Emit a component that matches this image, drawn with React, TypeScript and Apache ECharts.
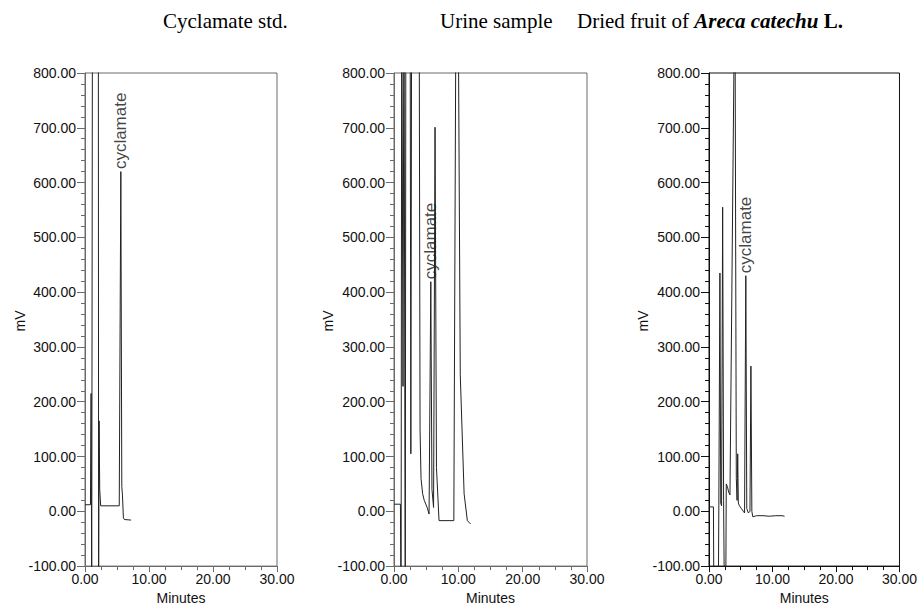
import React, { useEffect, useRef } from "react";
import * as echarts from "echarts";

// ---- Data (minutes, mV) ----
const std_time = [0, 0.85, 0.95, 1.05, 1.17, 2.08, 2.13, 2.2, 2.3, 2.45, 5.35, 5.6, 5.75, 5.85, 6.0, 6.15, 7.2];
const std_signal = [12, 12, 215, -150, 1000, 1000, -150, 165, 40, 10, 10, 620, 45, 30, -12, -15, -16];

const urine_time = [0, 1.0, 1.1, 1.2, 1.4, 1.55, 1.75, 1.85, 2.5, 2.62, 2.75, 3.9, 4.05, 4.2, 4.45, 4.7, 5.15, 5.45, 5.72, 5.9, 6.15, 6.38, 6.6, 7.0, 9.3, 9.65, 9.95, 10.3, 10.9, 11.4, 11.9];
const urine_signal = [13, 13, -200, 1000, 228, 1000, -200, 1000, 1000, 105, 1000, 1000, 150, 60, 32, 20, 7, -5, 419, 40, 7, 701, 80, -17, -17, 1000, 1000, 250, 32, -17, -23];

const areca_time = [0, 0.7, 0.78, 1.45, 1.55, 1.72, 1.85, 1.98, 2.15, 2.3, 2.45, 2.62, 2.72, 2.9, 3.1, 3.3, 4.08, 4.18, 4.3, 4.42, 4.52, 4.62, 4.8, 5.1, 5.4, 5.6, 5.8, 5.95, 6.2, 6.45, 6.6, 6.75, 6.9, 7.5, 8.5, 9.5, 10.5, 11.5, 11.9];
const areca_signal = [8, 8, -200, -200, 10, 435, 15, 10, 555, 20, -200, -200, 50, 45, 35, 30, 1000, 1000, 60, 20, 105, 15, 10, 5, 0, -3, 430, 5, -3, 0, 265, 0, -10, -8, -8, -9, -8, -8, -9];

// cyclamate peak markers [minutes, mV]
const cyclamatePeaks = [
  [5.6, 620],
  [5.72, 419],
  [5.8, 430],
];

const panelTitles = ["Cyclamate std.", "Urine sample", "Dried fruit of Areca catechu L."];
const yTicks = { min: -100, max: 800, interval: 100 };
const xTicks = { min: 0, max: 30, interval: 10 };

const grids = [
  { left: 85, top: 73, width: 192, height: 497 },
  { left: 394, top: 73, width: 193, height: 497 },
  { left: 709, top: 73, width: 201, height: 497 },
];
const frameColors = ["#6a6a6a", "#6a6a6a", "#111"];

const pair = (t: number[], s: number[]) => t.map((v, i) => [v, s[i]]);

export default function App() {
  const ref = useRef<HTMLDivElement>(null);
  useEffect(() => {
    if (!ref.current) return;
    const chart = echarts.init(ref.current, null, { renderer: "svg" });
    const traces = [
      pair(std_time, std_signal),
      pair(urine_time, urine_signal),
      pair(areca_time, areca_signal),
    ];
    const font = "'Liberation Sans', Arial, sans-serif";
    const xAxis = grids.map((_, i) => ({
      type: "value",
      gridIndex: i,
      min: xTicks.min,
      max: xTicks.max,
      interval: xTicks.interval,
      name: "Minutes",
      nameLocation: "middle",
      nameGap: 23,
      nameTextStyle: { fontFamily: font, fontSize: 14, color: "#111" },
      axisLine: { show: true, onZero: false, lineStyle: { color: frameColors[i], width: 1 } },
      axisTick: { show: true, inside: false, length: 6, lineStyle: { color: frameColors[i] } },
      minorTick: { show: true, splitNumber: 4, length: 4, lineStyle: { color: frameColors[i] } },
      splitLine: { show: false },
      axisLabel: {
        fontFamily: font,
        fontSize: 14,
        color: "#111",
        margin: 6,
        formatter: (v: number) => v.toFixed(2),
      },
    }));
    const yAxis = grids.map((_, i) => ({
      type: "value",
      gridIndex: i,
      min: yTicks.min,
      max: yTicks.max,
      interval: yTicks.interval,
      axisLine: { show: true, onZero: false, lineStyle: { color: frameColors[i], width: 1 } },
      axisTick: { show: true, inside: false, length: 8, lineStyle: { color: frameColors[i] } },
      minorTick: { show: true, splitNumber: 5, length: 4, lineStyle: { color: frameColors[i] } },
      splitLine: { show: false },
      axisLabel: {
        fontFamily: font,
        fontSize: 14,
        color: "#111",
        margin: 9,
        formatter: (v: number) => v.toFixed(2),
      },
    }));
    const lineSeries = traces.map((d, i) => ({
      type: "line",
      xAxisIndex: i,
      yAxisIndex: i,
      data: d,
      showSymbol: false,
      symbol: "none",
      clip: true,
      silent: true,
      lineStyle: { color: "#222", width: 1 },
    }));
    const labelSeries = cyclamatePeaks.map((p, i) => ({
      type: "scatter",
      xAxisIndex: i,
      yAxisIndex: i,
      data: [p],
      symbol: "circle",
      symbolSize: 1,
      itemStyle: { color: "rgba(0,0,0,0)" },
      silent: true,
      label: {
        show: true,
        formatter: "cyclamate",
        position: "top",
        distance: 2,
        rotate: 90,
        align: "left",
        verticalAlign: "middle",
        fontFamily: font,
        fontSize: 17,
        color: "#111",
      },
    }));
    const mvX = [20, 328, 643];
    const serif = "'Liberation Serif', 'Times New Roman', serif";
    const ts = 21;
    const graphic: any[] = mvX.map((x) => ({
      type: "text",
      x,
      y: 321,
      rotation: Math.PI / 2,
      style: {
        text: "mV",
        align: "center",
        verticalAlign: "middle",
        font: `14px ${font}`,
        fill: "#111",
      },
    }));
    graphic.push(
      {
        type: "text",
        left: 163,
        top: 10,
        style: { text: panelTitles[0], font: `${ts}px ${serif}`, fill: "#000" },
      },
      {
        type: "text",
        left: 440,
        top: 10,
        style: { text: panelTitles[1], font: `${ts}px ${serif}`, fill: "#000" },
      },
      {
        type: "text",
        left: 577,
        top: 10,
        style: {
          text: "{n|Dried fruit of }{bi|Areca catechu}{b| L.}",
          rich: {
            n: { fontFamily: serif, fontSize: ts, color: "#000" },
            bi: { fontFamily: serif, fontSize: ts, fontWeight: "bold", fontStyle: "italic", color: "#000" },
            b: { fontFamily: serif, fontSize: ts, fontWeight: "bold", color: "#000" },
          },
        },
      }
    );
    chart.setOption({
      animation: false,
      backgroundColor: "#fff",
      grid: grids.map((g, i) => ({
        ...g,
        show: true,
        borderColor: frameColors[i],
        borderWidth: 1,
        backgroundColor: "transparent",
      })),
      xAxis,
      yAxis,
      series: [...lineSeries, ...labelSeries],
      graphic,
    });
    return () => chart.dispose();
  }, []);
  return (
    <div
      ref={ref}
      style={{ position: "fixed", left: 0, top: 0, width: 920, height: 610 }}
    />
  );
}
